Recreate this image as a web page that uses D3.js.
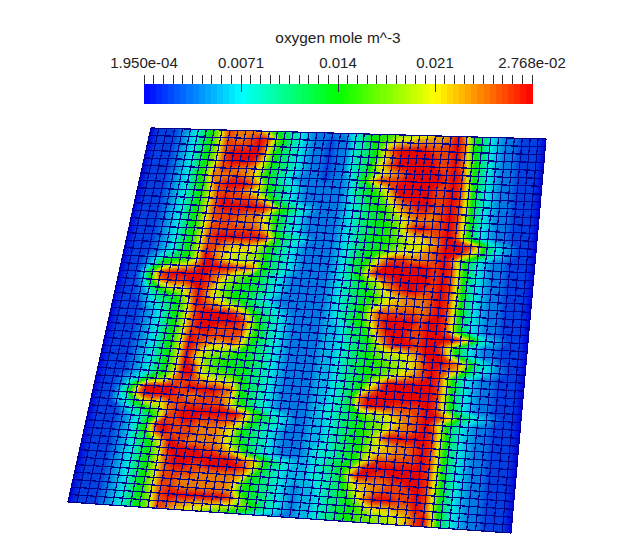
<!DOCTYPE html>
<html><head><meta charset="utf-8">
<style>html,body{margin:0;padding:0;background:#fff}svg{display:block}text{font-family:"Liberation Sans",Arial,sans-serif;font-size:15px;fill:#222}</style>
<script src="https://cdn.jsdelivr.net/npm/d3@7"></script>
</head><body><svg id="c" width="618" height="548"></svg>
<script>
const title = "oxygen mole m^-3";
const minValue = 0.000195, maxValue = 0.02768;
const tickLabels = ["1.950e-04","0.0071","0.014","0.021","2.768e-02"];
const tickValues = [0.000195,0.00707,0.01394,0.02081,0.02768];
// oxygen level per mesh vertex, hex digit 0..f = min..max; one string per mesh row (51 x 51)
const levels = [
"011123468b edddca7654 3222234578 89aabbccdf c8643221110",
"011123468b eddefea754 3221224578 9bccddddef d8643221110",
"011123468b eeeefd9754 3221224568 ceffffeeef d8643221110",
"011123468b effffc8654 3221224568 bdfffffeef d9643221110",
"011123468b efffeb8654 322122456a cefffffeef d9643221110",
"011123469c eeddca7654 3221224579 bcdeffffef e9643221110",
"011123479d ddedc97543 222122358c eeefffffef ea643221110",
"011123468c efffec8654 3222223568 acfffffeef ea643221110",
"011123468b eeedca8654 3222223567 8bdffffeef ea643221110",
"011123468b efeeedb754 3222223457 89cdeffeef ea643221110",
"011123468b effffffd97 5432223456 78acdeedef ea643221110",
"011123468b eeeeddc975 4322223456 789acdddef ea643221110",
"011123468b deedddca75 4322223456 778adffeef ea643221110",
"011123468b eeeeeedb75 4322223456 788abccdef ea643221110",
"011123468b effffffe96 5432223456 7789abbcdf ffeb6432110",
"011123468b eedcccb975 4322223456 789abbcdef fec96432110",
"011123468b fdcbbba865 4322223467 8bdeedddef d9643221110",
"011235678b fecbaab865 4322223467 adffffffef ea643221110",
"011258abcd ffffeed865 4322223468 dfffffffef ea643221110",
"01149effff fedca98754 3222223457 9adeffffef ea643221110",
"01138deeef feca987654 3222223456 79bdeffeef ea643221110",
"011257abbd fdb9877654 3222223456 78abcdddef ea643221110",
"011235679c fdba876543 2222223456 89bccdddef ea643221110",
"011134568b fedcba8654 3222223456 8ceeeeedef ea643221110",
"011123468b effffec865 4322223457 8beffffeff ea643221110",
"011123468b efffffea75 4322223346 7adfffeeff ea643221110",
"011123468b effeeeea75 4322223346 68ceffeeff ffeb6432110",
"011123468b feeeeed975 4322223345 67adfffeff da643221110",
"011123468b fedccdc865 4322223345 679abbcdff ea643221110",
"011123468b fdbaa98765 4322223345 6789aabcef feda6432110",
"011123468b fca9887765 4322223345 67889abcef edc85432110",
"011123468b feb9877765 4322223345 6789abcdef ea643221110",
"011123468b ffba998765 4322223345 67acffffff ea643221110",
"01123479ad eedccbb865 4322223345 69ceffffff ea643221110",
"01125affff effffed865 4322223345 7dffffffff ea643221110",
"01136cffff eddeedc865 4322223345 7dfffeeeef ea643221110",
"011347bcbd eeeeeec975 4322223445 68aabcddef fdb75432110",
"01113568ad efffffffd9 7543223345 6789abcdef d9643221110",
"011123469e effeeeedb8 6543223345 6789acddef ea643221110",
"01112358ef eeedddcb86 5432223345 678adfffff ea643221110",
"01112358df eeedddca76 5432223345 678abcddef ea643221110",
"011123569c feddddca86 5432223445 679bccddef ea643221110",
"011123468b ffffeedca7 5432223445 679ceeeeef ea643221110",
"011123468b efffffffed c865433456 79dfffffff ea643221110",
"011123468b effeeffffe b854333445 7cffeeffff ea643221110",
"011123468b eeeedddddc 8654333445 6accddeeff ea643221110",
"011123468b eeddddddc9 7654323345 69bcdeeeef ea643221110",
"011123468b eeddddddc8 7654323345 67adfffeef ea643221110",
"011123468b efffffffea 7654323345 678acccddf ea643221110",
"011123468a eeddcccbba 9754323345 6789aabbce fb643221110",
"011123468a edcbba9976 5433223345 67899aabce fb643221110"
];
const bands = 64;
const rainbow = d3.scaleLinear().domain([0,.25,.5,.75,1])
  .range(["#0000ff","#00ffff","#00ff00","#ffff00","#ff0000"]);
const svg=d3.select("#c");

// Layout
const corners={tl:[151,128],tr:[546,139],bl:[68,502],br:[511,533]};
const nRows=levels.length-1, nCols=levels[0].replace(/ /g,"").length-1;
const uS=d3.scaleLinear().domain([0,nCols]).range([0,1]);
const vS=d3.scaleLinear().domain([0,nRows]).range([0,1]);
const px=d3.interpolate(corners.tl,corners.bl), qx=d3.interpolate(corners.tr,corners.br);
function project(u,v){const t=vS(v),a=px(t),b=qx(t),s=uS(u);return [a[0]+(b[0]-a[0])*s,a[1]+(b[1]-a[1])*s];}

// Field
const norm=d3.scaleLinear().domain([0,15]).range([minValue,maxValue]);
const values=[];
levels.forEach(r=>{r.replace(/ /g,"").split("").forEach(c=>values.push(norm(parseInt(c,16))));});
const tOf=d3.scaleLinear().domain([minValue,maxValue]).range([0,1]);
const bandColor=k=>rainbow((k+.5)/bands);
const shade=k=>{const c=d3.rgb(bandColor(k));return d3.rgb(c.r*.9,c.g*.9,c.b*.88).formatRgb();};
const thresholds=d3.range(1,bands).map(k=>tOf.invert(k/bands));
const contours=d3.contours().size([nCols+1,nRows+1]).thresholds(thresholds)(values);
const clampU=d3.scaleLinear().domain([.5,nCols+.5]).range([0,nCols]).clamp(true);
const clampV=d3.scaleLinear().domain([.5,nRows+.5]).range([0,nRows]).clamp(true);
const path=d3.geoPath(d3.geoTransform({point(x,y){const p=project(clampU(x),clampV(y));this.stream.point(p[0],p[1]);}}));

const mesh=svg.append("g");
const line=d3.line();
mesh.append("path").attr("d",line([project(0,0),project(nCols,0),project(nCols,nRows),project(0,nRows)])+"Z").attr("fill",shade(0));
mesh.selectAll("path.band").data(contours).join("path").attr("class","band")
  .attr("d",path).attr("fill",(d,i)=>shade(i+1));
const gl=svg.append("g").attr("fill","none").attr("stroke","#00008b").attr("stroke-width",1.2).attr("shape-rendering","crispEdges");
gl.selectAll("path.r").data(d3.range(nRows+1)).join("path").attr("class","r")
  .attr("d",v=>line([project(0,v),project(nCols,v)]));
gl.selectAll("path.c").data(d3.range(nCols+1)).join("path").attr("class","c")
  .attr("d",u=>line([project(u,0),project(u,nRows)]));

// Colour bar
const barX=d3.scaleLinear().domain([minValue,maxValue]).range([144,532]);
const barTop=84,barBottom=104,tickTop=75,majorBottom=92;
const barS=d3.scaleLinear().domain([0,bands]).range([144,532]);
svg.append("g").attr("shape-rendering","crispEdges").selectAll("rect").data(d3.range(bands)).join("rect")
  .attr("x",k=>barS(k)).attr("width",k=>barS(k+1)-barS(k)+.5).attr("y",barTop).attr("height",barBottom-barTop)
  .attr("fill",k=>bandColor(k));
const minor=d3.scaleLinear().domain([0,40]).range([144,532]);
const tg=svg.append("g").attr("stroke","#333").attr("stroke-width",1).attr("shape-rendering","crispEdges");
tg.selectAll("line.m").data(d3.range(41)).join("line").attr("class","m")
  .attr("x1",i=>minor(i)).attr("x2",i=>minor(i)).attr("y1",tickTop).attr("y2",barTop);
tg.selectAll("line.M").data(tickValues.slice(1,4)).join("line").attr("class","M")
  .attr("x1",d=>barX(d)).attr("x2",d=>barX(d)).attr("y1",barTop).attr("y2",majorBottom);
svg.selectAll("text.t").data(tickLabels).join("text").attr("class","t")
  .attr("x",(d,i)=>barX(tickValues[i])).attr("y",68).attr("text-anchor","middle").text(d=>d);
svg.append("text").attr("x",338).attr("y",43).attr("text-anchor","middle").style("font-size","15.4px").text(title);
</script></body></html>
